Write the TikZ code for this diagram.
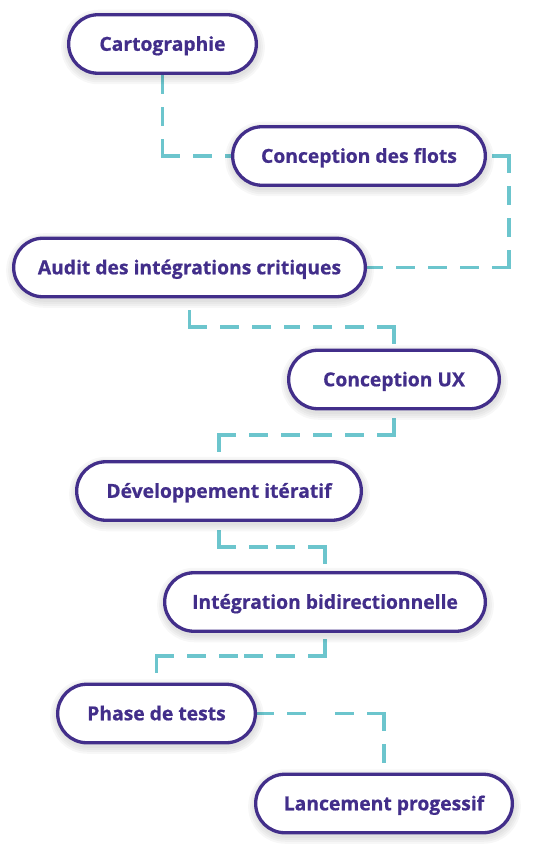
\documentclass[tikz,border=0pt]{standalone}
\usepackage{fontspec}
\setmainfont{Open Sans}[BoldFeatures={FakeBold=0.7}]
\usetikzlibrary{shapes.misc,shadows,backgrounds,calc}
\definecolor{purp}{RGB}{66,46,138}
\definecolor{tealc}{RGB}{108,197,205}
\tikzset{
  shadowlayer/.style={general shadow={draw=black, fill=none, draw opacity=0.03, line width=#1, shadow yshift=-3pt, shadow xshift=0.5pt}},
  stepnode/.style={rounded rectangle, minimum width=#1, minimum height=58.5pt,
    draw=purp, line width=3.3pt, fill=white, text=purp, inner sep=0pt,
    text height=13.6pt, text depth=0pt,
    font=\bfseries\fontsize{19.3}{22}\selectfont,
    shadowlayer=16pt, shadowlayer=12pt, shadowlayer=8pt, shadowlayer=4pt},
  conn/.style={draw=tealc, line width=3.5pt, line cap=rect, dash pattern=on 15.5pt off 16.5pt}
}
\newcommand\conseg[2]{\draw[conn] (#1) -- (#2);}
\begin{document}
\begin{tikzpicture}[x=1pt,y=-1pt]
\useasboundingbox (0,0) rectangle (540,858);
\node[stepnode=187.7pt] (n1) at (162.5,44) {Cartographie};
\node[stepnode=252.7pt] (n2) at (359,156) {Conception des flots};
\node[stepnode=351.7pt] (n3) at (189.5,267.5) {Audit des intégrations critiques};
\node[stepnode=210.7pt] (n4) at (394,379.5) {Conception UX};
\node[stepnode=284.7pt] (n5) at (219,491) {Développement itératif};
\node[stepnode=320.7pt] (n6) at (325,602) {Intégration bidirectionnelle};
\node[stepnode=197.7pt] (n7) at (156.5,713.5) {Phase de tests};
\node[stepnode=256.7pt] (n8) at (384,803.5) {Lancement progessif};
% corners
\coordinate (c1) at (n1.south |- n2.west);
\coordinate (c2a) at (509,156);
\coordinate (c2b) at (509,267.5);
\coordinate (m2) at ($(c2a)!0.5!(c2b)$);
\coordinate (c3a) at (n3.south |- 0,327);
\coordinate (c3b) at (n4.north |- 0,327);
\coordinate (m3) at ($(c3a)!0.5!(c3b)$);
\coordinate (c4a) at (n4.south |- 0,435);
\coordinate (c4b) at (n5.north |- 0,435);
\coordinate (m4) at ($(c4a)!0.5!(c4b)$);
\coordinate (c5a) at (n5.south |- 0,547);
\coordinate (c5b) at (n6.north |- 0,547);
\coordinate (m5) at ($(c5a)!0.5!(c5b)$);
\coordinate (c6a) at (n6.south |- 0,656);
\coordinate (c6b) at (n7.north |- 0,656);
\coordinate (m6) at ($(c6a)!0.5!(c6b)$);
\coordinate (c7) at (n8.north |- n7.east);
\coordinate (m7) at ($(n7.east)!0.5!(c7)$);
\begin{scope}[on background layer]
\conseg{c1}{n1.south}
\conseg{c1}{n2.west}
\conseg{c2a}{n2.east}
\conseg{c2a}{m2}
\conseg{c2b}{m2}
\conseg{c2b}{n3.east}
\conseg{c3a}{n3.south}
\conseg{c3a}{m3}
\conseg{c3b}{m3}
\conseg{c3b}{n4.north}
\conseg{c4a}{n4.south}
\conseg{c4a}{m4}
\conseg{c4b}{m4}
\conseg{c4b}{n5.north}
\conseg{c5a}{n5.south}
\conseg{c5a}{m5}
\conseg{c5b}{m5}
\conseg{c5b}{n6.north}
\conseg{c6a}{n6.south}
\conseg{c6a}{m6}
\conseg{c6b}{m6}
\conseg{c6b}{n7.north}
\conseg{n7.east}{m7}
\conseg{c7}{m7}
\conseg{c7}{n8.north}
\end{scope}
\end{tikzpicture}
\end{document}
